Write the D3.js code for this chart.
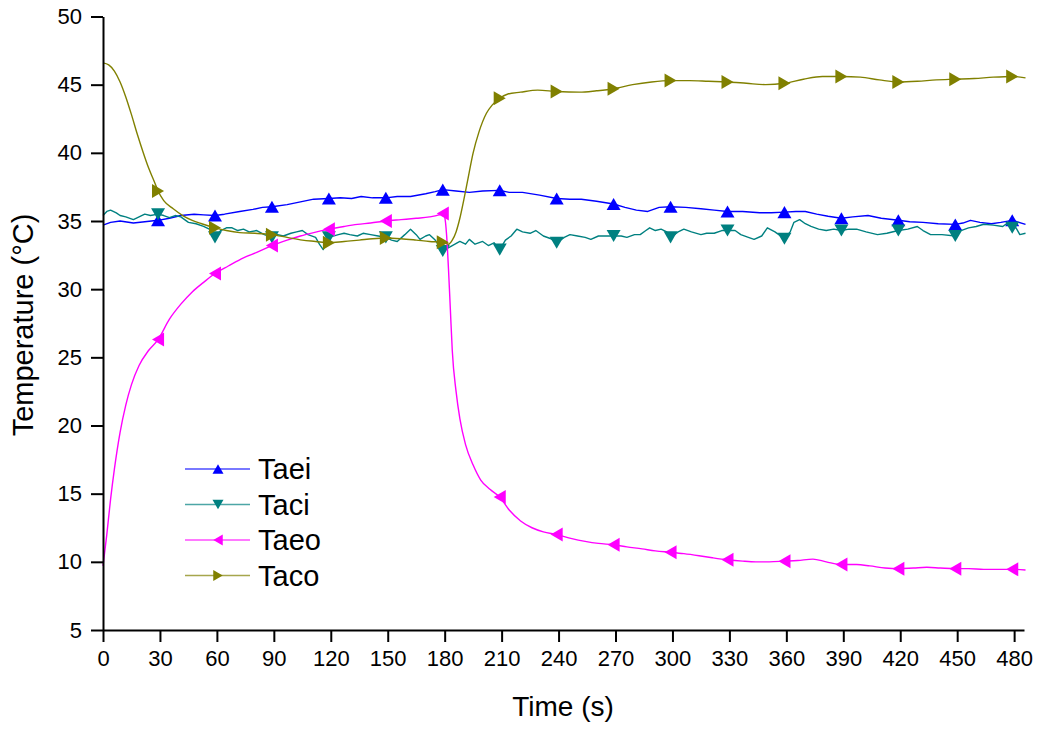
<!DOCTYPE html>
<html>
<head>
<meta charset="utf-8">
<script src="https://cdnjs.cloudflare.com/ajax/libs/d3/7.8.5/d3.min.js"></script>
<style>
  body { margin: 0; background: #fff; }
  svg { display: block; font-family: "Liberation Sans", Arial, sans-serif; }
</style>
</head>
<body>
<div id="chart-area"></div>
<script>
// series names
var seriesNames = ["Taei", "Taci", "Taeo", "Taco"];

// x tick labels (s) and y tick labels (°C)
var xTicks = [0, 30, 60, 90, 120, 150, 180, 210, 240, 270, 300, 330, 360, 390, 420, 450, 480];
var yTicks = [5, 10, 15, 20, 25, 30, 35, 40, 45, 50];

// times where the markers sit
var markerTimes = [29, 59, 89, 119, 149, 179, 209, 239, 269, 299, 329, 359, 389, 419, 449, 479];

// Taei
var taeiTime = [0, 4, 9, 16, 22, 29, 35, 41, 48, 53, 59, 64, 72, 79, 84, 89, 97, 104, 111, 119, 125, 131, 136, 142, 149, 155, 162, 170, 175, 179, 186, 193, 200, 209, 214, 221, 230, 239, 246, 252, 260, 269, 275, 281, 287, 293, 299, 307, 315, 322, 329, 337, 346, 352, 359, 365, 370, 376, 382, 389, 395, 403, 410, 419, 425, 432, 440, 449, 453, 457, 462, 468, 473, 479, 486];
var taeiVals = [34.7, 34.9, 35.0, 34.85, 34.95, 35.05, 35.2, 35.4, 35.5, 35.45, 35.4, 35.5, 35.7, 35.85, 36.0, 36.05, 36.2, 36.4, 36.6, 36.65, 36.7, 36.65, 36.8, 36.7, 36.7, 36.8, 36.8, 37.0, 37.15, 37.3, 37.2, 37.1, 37.2, 37.25, 37.1, 37.1, 36.9, 36.65, 36.6, 36.6, 36.45, 36.25, 36.0, 35.8, 35.7, 36.0, 36.05, 36.0, 35.9, 35.8, 35.7, 35.7, 35.6, 35.6, 35.65, 35.7, 35.7, 35.5, 35.35, 35.2, 35.3, 35.4, 35.2, 35.05, 34.95, 34.9, 34.8, 34.75, 34.85, 35.05, 34.9, 34.8, 34.9, 35.05, 34.75];

// Taci
var taciTime = [0, 2, 4, 7, 9, 12, 16, 19, 22, 25, 29, 32, 35, 38, 41, 45, 49, 53, 56, 59, 62, 65, 68, 71, 74, 77, 81, 85, 89, 92, 95, 99, 102, 105, 108, 112, 114, 116, 119, 124, 127, 130, 134, 137, 141, 145, 149, 152, 155, 159, 162, 165, 167, 170, 172, 175, 179, 184, 188, 191, 193, 196, 200, 203, 206, 209, 212, 215, 218, 221, 225, 228, 232, 236, 239, 243, 246, 250, 254, 257, 261, 265, 269, 273, 276, 280, 283, 286, 288, 291, 294, 297, 299, 303, 306, 310, 315, 318, 322, 326, 329, 333, 336, 340, 343, 347, 350, 354, 359, 362, 364, 367, 370, 373, 377, 381, 385, 389, 393, 397, 402, 408, 413, 419, 424, 429, 432, 436, 442, 449, 452, 456, 460, 464, 469, 474, 477, 479, 481, 483, 486];
var taciVals = [35.4, 35.7, 35.8, 35.6, 35.4, 35.3, 35.1, 35.3, 35.5, 35.4, 35.5, 35.4, 35.25, 35.4, 35.3, 34.9, 34.8, 34.6, 34.4, 33.8, 34.3, 34.5, 34.5, 34.3, 34.4, 34.2, 34.3, 34.0, 33.8, 34.0, 33.9, 34.1, 34.2, 34.3, 34.0, 33.8, 33.3, 32.9, 33.8, 34.0, 34.1, 34.0, 33.9, 34.1, 34.0, 33.9, 33.8, 33.6, 33.5, 34.0, 34.4, 34.0, 33.65, 33.9, 34.0, 33.6, 32.8, 33.2, 33.5, 33.3, 33.65, 33.3, 33.5, 33.2, 33.4, 32.9, 33.6, 33.9, 34.4, 34.2, 34.1, 34.3, 33.9, 33.7, 33.4, 33.8, 34.0, 33.9, 33.8, 33.65, 33.9, 33.9, 33.9, 33.9, 33.8, 34.0, 34.0, 34.3, 34.5, 34.3, 34.4, 34.2, 33.8, 34.2, 34.4, 34.2, 34.0, 34.1, 34.1, 34.3, 34.3, 34.3, 34.0, 33.8, 33.65, 33.9, 34.5, 34.2, 33.7, 34.2, 34.9, 35.1, 34.8, 34.6, 34.4, 34.3, 34.4, 34.3, 34.4, 34.4, 34.2, 34.0, 34.1, 34.3, 34.4, 34.6, 34.3, 34.0, 34.0, 33.9, 34.3, 34.5, 34.6, 34.76, 34.7, 34.6, 34.9, 34.5, 34.5, 34.0, 34.1];

// Taeo
var taeoTime = [0, 2, 4, 6, 9, 12, 15, 19, 24, 29, 35, 41, 47, 53, 59, 66, 74, 81, 89, 97, 104, 111, 119, 127, 134, 141, 149, 157, 165, 172, 177, 179, 180, 181, 182, 183, 184, 186, 188, 191, 195, 199, 204, 209, 214, 220, 226, 232, 239, 247, 254, 261, 269, 276, 284, 291, 299, 306, 314, 321, 329, 337, 344, 351, 359, 366, 374, 381, 389, 397, 404, 412, 419, 427, 434, 441, 449, 456, 464, 471, 479, 486];
var taeoVals = [9.7, 12.0, 14.6, 16.8, 19.5, 21.5, 23.0, 24.4, 25.5, 26.3, 27.8, 28.9, 29.8, 30.5, 31.15, 31.7, 32.3, 32.7, 33.2, 33.6, 33.9, 34.15, 34.4, 34.6, 34.75, 34.85, 35.0, 35.1, 35.2, 35.3, 35.45, 35.55, 35.3, 34.0, 31.5, 28.5, 25.5, 22.5, 20.5, 18.6, 17.1, 16.0, 15.3, 14.75, 13.8, 13.0, 12.5, 12.2, 12.0, 11.7, 11.5, 11.35, 11.25, 11.1, 10.95, 10.8, 10.7, 10.6, 10.45, 10.3, 10.15, 10.05, 10.0, 10.0, 10.05, 10.1, 10.2, 10.0, 9.8, 9.8, 9.7, 9.55, 9.5, 9.55, 9.6, 9.55, 9.5, 9.5, 9.45, 9.45, 9.45, 9.4];

// Taco
var tacoTime = [0, 3, 6, 9, 12, 15, 18, 21, 24, 27, 29, 32, 37, 42, 47, 52, 59, 65, 72, 80, 89, 97, 105, 112, 119, 127, 135, 142, 149, 157, 165, 172, 179, 182, 184, 186, 188, 190, 192, 195, 198, 202, 205, 209, 213, 220, 229, 239, 251, 260, 269, 279, 289, 299, 309, 319, 329, 339, 349, 359, 369, 379, 389, 399, 409, 419, 429, 439, 449, 459, 469, 479, 486];
var tacoVals = [46.6, 46.45, 46.0, 45.2, 44.1, 42.8, 41.4, 40.1, 38.9, 37.9, 37.2, 36.5, 35.9, 35.4, 35.05, 34.8, 34.5, 34.3, 34.15, 34.1, 34.0, 33.8, 33.6, 33.5, 33.4, 33.5, 33.6, 33.7, 33.75, 33.7, 33.6, 33.5, 33.45, 33.3, 33.6, 34.2, 35.2, 36.5, 37.9, 40.0, 41.5, 42.9, 43.5, 44.0, 44.3, 44.45, 44.6, 44.5, 44.45, 44.55, 44.7, 45.0, 45.2, 45.3, 45.3, 45.25, 45.2, 45.1, 45.0, 45.1, 45.4, 45.6, 45.6, 45.55, 45.35, 45.2, 45.25, 45.35, 45.4, 45.45, 45.55, 45.6, 45.5];

var colors = ["#0000ff", "#008080", "#ff00ff", "#808000"];
var shapes = ["up", "down", "left", "right"];

var svgW = 1039, svgH = 729;
var margin = { left: 103, right: 15, top: 16.5, bottom: 99 };
var width = svgW - margin.left - margin.right,
    height = svgH - margin.top - margin.bottom;

var svg = d3.select("#chart-area")
    .append("svg")
        .attr("width", svgW)
        .attr("height", svgH);

var g = svg.append("g")
    .attr("transform", "translate(" + margin.left + "," + margin.top + ")");

// Scales
var x = d3.scaleLinear()
    .domain([0, 485.2])
    .range([0, width]);

var y = d3.scaleLinear()
    .domain([5, 50])
    .range([height, 0]);

// triangle marker paths
function tri(kind, s) {
    var h = s * 0.86;
    if (kind == "up") return "M0," + (-h / 2) + "L" + (s / 2) + "," + (h / 2) + "L" + (-s / 2) + "," + (h / 2) + "Z";
    if (kind == "down") return "M0," + (h / 2) + "L" + (s / 2) + "," + (-h / 2) + "L" + (-s / 2) + "," + (-h / 2) + "Z";
    if (kind == "left") return "M" + (-h / 2) + ",0L" + (h / 2) + "," + (-s / 2) + "L" + (h / 2) + "," + (s / 2) + "Z";
    return "M" + (h / 2) + ",0L" + (-h / 2) + "," + (-s / 2) + "L" + (-h / 2) + "," + (s / 2) + "Z";
}

var series = [
    { name: seriesNames[0], time: taeiTime, vals: taeiVals, curve: d3.curveLinear },
    { name: seriesNames[1], time: taciTime, vals: taciVals, curve: d3.curveLinear },
    { name: seriesNames[2], time: taeoTime, vals: taeoVals, curve: d3.curveMonotoneX },
    { name: seriesNames[3], time: tacoTime, vals: tacoVals, curve: d3.curveMonotoneX }
];

series.forEach(function(s, i) {
    var pts = s.time.map(function(t, j) { return { t: t, v: s.vals[j] }; });
    var line = d3.line()
        .x(function(d) { return x(d.t); })
        .y(function(d) { return y(d.v); })
        .curve(s.curve);

    g.append("path")
        .datum(pts)
        .attr("fill", "none")
        .attr("stroke", colors[i])
        .attr("stroke-width", 1.4)
        .attr("stroke-linejoin", "round")
        .attr("d", line);

    var marks = pts.filter(function(d) { return markerTimes.indexOf(d.t) >= 0; });
    g.selectAll(".mk" + i)
        .data(marks)
        .enter()
        .append("path")
            .attr("class", "mk" + i)
            .attr("fill", colors[i])
            .attr("transform", function(d) { return "translate(" + x(d.t) + "," + y(d.v) + ")"; })
            .attr("d", tri(shapes[i], 14));
});

// Axes
var xAxisGroup = g.append("g")
    .attr("transform", "translate(0," + height + ")");
xAxisGroup.call(d3.axisBottom(x)
    .tickValues(d3.range(15, 481, 30))
    .tickSize(6).tickSizeOuter(0).tickFormat(""));
xAxisGroup.call(d3.axisBottom(x)
    .tickValues(xTicks)
    .tickSize(12).tickSizeOuter(0).tickPadding(8));

var yAxisGroup = g.append("g");
yAxisGroup.call(d3.axisLeft(y)
    .tickValues(d3.range(7.5, 50, 5))
    .tickSize(6).tickSizeOuter(0).tickFormat(""));
yAxisGroup.call(d3.axisLeft(y)
    .tickValues(yTicks)
    .tickSize(12).tickSizeOuter(0).tickPadding(9));

g.selectAll(".domain").attr("stroke", "#000").attr("stroke-width", 2);
g.selectAll(".tick line").attr("stroke", "#000").attr("stroke-width", 2);
g.selectAll(".tick text")
    .attr("font-family", "'Liberation Sans', Arial, sans-serif")
    .attr("font-size", "22px")
    .attr("fill", "#000");

// X Label
svg.append("text")
    .attr("x", 563)
    .attr("y", 716)
    .attr("font-size", "28px")
    .attr("text-anchor", "middle")
    .text("Time (s)");

// Y Label
svg.append("text")
    .attr("transform", "translate(33,325) rotate(-90)")
    .attr("font-size", "29px")
    .attr("text-anchor", "middle")
    .text("Temperature (°C)");

// Legend
var legend = svg.append("g")
    .attr("transform", "translate(185,469)");
seriesNames.forEach(function(name, i) {
    var row = legend.append("g")
        .attr("transform", "translate(0," + (i * 35.5) + ")");
    row.append("line")
        .attr("x1", 0).attr("x2", 65)
        .attr("stroke", colors[i])
        .attr("stroke-opacity", 0.7)
        .attr("stroke-width", 1.5);
    row.append("path")
        .attr("transform", "translate(33,0)")
        .attr("fill", colors[i])
        .attr("d", tri(shapes[i], 11));
    row.append("text")
        .attr("x", 73)
        .attr("y", 10)
        .attr("font-size", "29px")
        .text(name);
});
</script>
</body>
</html>
